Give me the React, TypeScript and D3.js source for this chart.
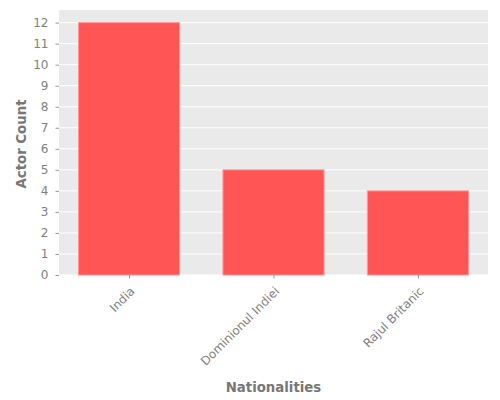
import React, { useRef, useEffect } from "react";
import * as d3 from "d3";

const nationalities = ["India", "Dominionul Indiei", "Rajul Britanic"];
const actorCounts = [12, 5, 4];
const yTicks = [0, 1, 2, 3, 4, 5, 6, 7, 8, 9, 10, 11, 12];

const App: React.FC = () => {
  const svgRef = useRef<SVGSVGElement | null>(null);

  useEffect(() => {
    if (!svgRef.current) return;
    const svg = d3.select(svgRef.current);
    svg.selectAll("*").remove();

    const width = 500;
    const height = 400;
    const margin = { top: 10, right: 12, bottom: 125, left: 59 };
    const font = "DejaVu Sans, sans-serif";

    // matplotlib-like category positions: 0..n-1, bar width 0.7, 5% padding
    const n = nationalities.length;
    const lo = -0.35 - 0.05 * (n - 1 + 0.7);
    const hi = n - 1 + 0.35 + 0.05 * (n - 1 + 0.7);
    const x = d3
      .scaleLinear()
      .domain([lo, hi])
      .range([margin.left, width - margin.right]);
    const y = d3
      .scaleLinear()
      .domain([0, d3.max(actorCounts)! * 1.05])
      .range([height - margin.bottom, margin.top]);

    // Plot background
    svg
      .append("rect")
      .attr("x", margin.left)
      .attr("y", margin.top)
      .attr("width", width - margin.left - margin.right)
      .attr("height", height - margin.top - margin.bottom)
      .attr("fill", "#eaeaea");

    // Horizontal grid
    svg
      .append("g")
      .selectAll("line")
      .data(yTicks)
      .enter()
      .append("line")
      .attr("x1", margin.left)
      .attr("x2", width - margin.right)
      .attr("y1", (d) => y(d))
      .attr("y2", (d) => y(d))
      .attr("stroke", "#ffffff")
      .attr("stroke-width", 1);

    // Bars
    svg
      .append("g")
      .selectAll("rect")
      .data(actorCounts)
      .enter()
      .append("rect")
      .attr("x", (_, i) => x(i - 0.35))
      .attr("y", (d) => y(d))
      .attr("width", x(0.35) - x(-0.35))
      .attr("height", (d) => y(0) - y(d))
      .attr("fill", "#ff5555")
      .attr("stroke", "#ff9999")
      .attr("stroke-width", 1);

    // Y axis
    const yAxis = svg
      .append("g")
      .attr("transform", `translate(${margin.left},0)`)
      .call(
        d3
          .axisLeft(y)
          .tickValues(yTicks)
          .tickSize(3.5)
          .tickPadding(7)
          .tickFormat(d3.format("d"))
      );
    yAxis.select(".domain").remove();
    yAxis.selectAll(".tick line").attr("stroke", "#999999");
    yAxis
      .selectAll("text")
      .style("fill", "#808080")
      .style("font-family", font)
      .style("font-size", "12px");

    // X axis
    const xAxis = svg
      .append("g")
      .attr("transform", `translate(0,${height - margin.bottom})`)
      .call(
        d3
          .axisBottom(x)
          .tickValues(d3.range(n))
          .tickSize(3.5)
          .tickFormat((d) => nationalities[+d])
      );
    xAxis.select(".domain").remove();
    xAxis.selectAll(".tick line").attr("stroke", "#999999");
    xAxis
      .selectAll("text")
      .attr("y", 0)
      .attr("dy", 0)
      .attr("transform", "translate(6,17) rotate(-45)")
      .style("text-anchor", "end")
      .style("fill", "#808080")
      .style("font-family", font)
      .style("font-size", "12px");

    // Axis titles
    svg
      .append("text")
      .attr("x", (margin.left + width - margin.right) / 2)
      .attr("y", 392)
      .attr("text-anchor", "middle")
      .text("Nationalities")
      .style("fill", "#777777")
      .style("font-family", font)
      .style("font-weight", "bold")
      .style("font-size", "13.3px");

    svg
      .append("text")
      .attr("transform", "translate(26,144) rotate(-90)")
      .attr("text-anchor", "middle")
      .text("Actor Count")
      .style("fill", "#777777")
      .style("font-family", font)
      .style("font-weight", "bold")
      .style("font-size", "13.3px");
  }, []);

  return (
    <svg
      ref={svgRef}
      width={500}
      height={400}
      style={{ position: "absolute", left: 0, top: 0, background: "#ffffff" }}
    />
  );
};

export default App;
